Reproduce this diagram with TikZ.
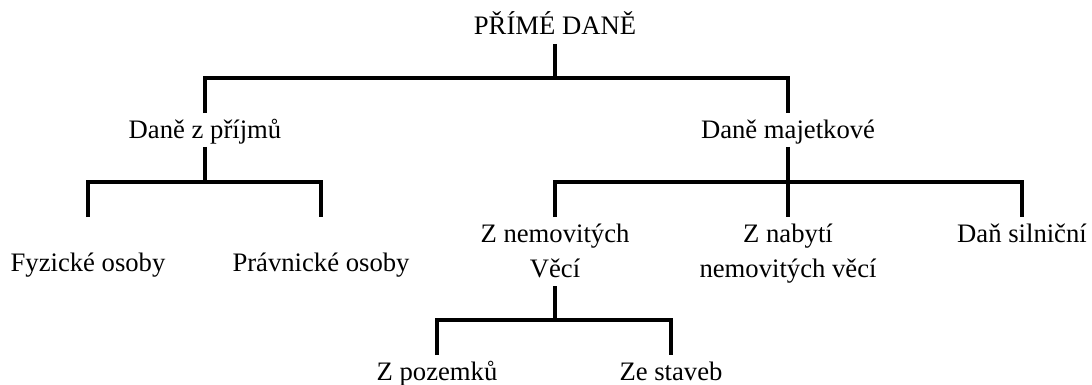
\documentclass[tikz,border=0pt]{standalone}
\usepackage{fontspec}
\setmainfont{Liberation Serif}
\begin{document}
\begin{tikzpicture}[x=0.75pt,y=-0.75pt,
  lbl/.style={inner sep=0pt,anchor=base,font=\fontsize{20}{26.25}\selectfont,
              text depth=6.5pt},
  tree/.style={line width=2.3pt,line join=miter}]
\useasboundingbox (0,0) rectangle (1092,385);

% labels, placed on their baselines
\node[lbl] (root) at (555,35)  {PŘÍMÉ DANĚ};
\node[lbl] (dp)   at (205,138) {Daně z příjmů};
\node[lbl] (dm)   at (788,138) {Daně majetkové};
\node[lbl] (fo)   at (88,271)  {Fyzické osoby};
\node[lbl] (po)   at (321,271) {Právnické osoby};
\node[lbl,text depth=] (zn)  at (555,242)
  {\begin{tabular}[t]{@{}c@{}}Z nemovitých\\Věcí\end{tabular}};
\node[lbl,text depth=] (znv) at (788,242)
  {\begin{tabular}[t]{@{}c@{}}Z nabytí\\nemovitých věcí\end{tabular}};
\node[lbl] (ds)   at (1022,242) {Daň silniční};
\node[lbl] (zp)   at (437,380) {Z pozemků};
\node[lbl] (zs)   at (671,380) {Ze staveb};

% junctions of the branches
\coordinate (j1)  at (555,78);
\coordinate (j2a) at (205,182);
\coordinate (j2b) at (788,182);
\coordinate (j3)  at (555,320);

% level 1
\draw[tree] (root.south) -- (j1);
\draw[tree] (dp |- 0,113) |- (j1) -| (dm |- 0,113);

% income taxes
\draw[tree] (dp.south) -- (j2a);
\draw[tree] (fo |- 0,217) |- (j2a) -| (po |- 0,217);

% property taxes
\draw[tree] (dm.south) -- (j2b);
\draw[tree] (zn |- 0,217) |- (j2b) -| (ds |- 0,217);
\draw[tree] (j2b) -- (znv |- 0,217);

% real estate tax
\draw[tree] (zn |- 0,286) -- (j3);
\draw[tree] (zp |- 0,355) |- (j3) -| (zs |- 0,355);
\end{tikzpicture}
\end{document}
